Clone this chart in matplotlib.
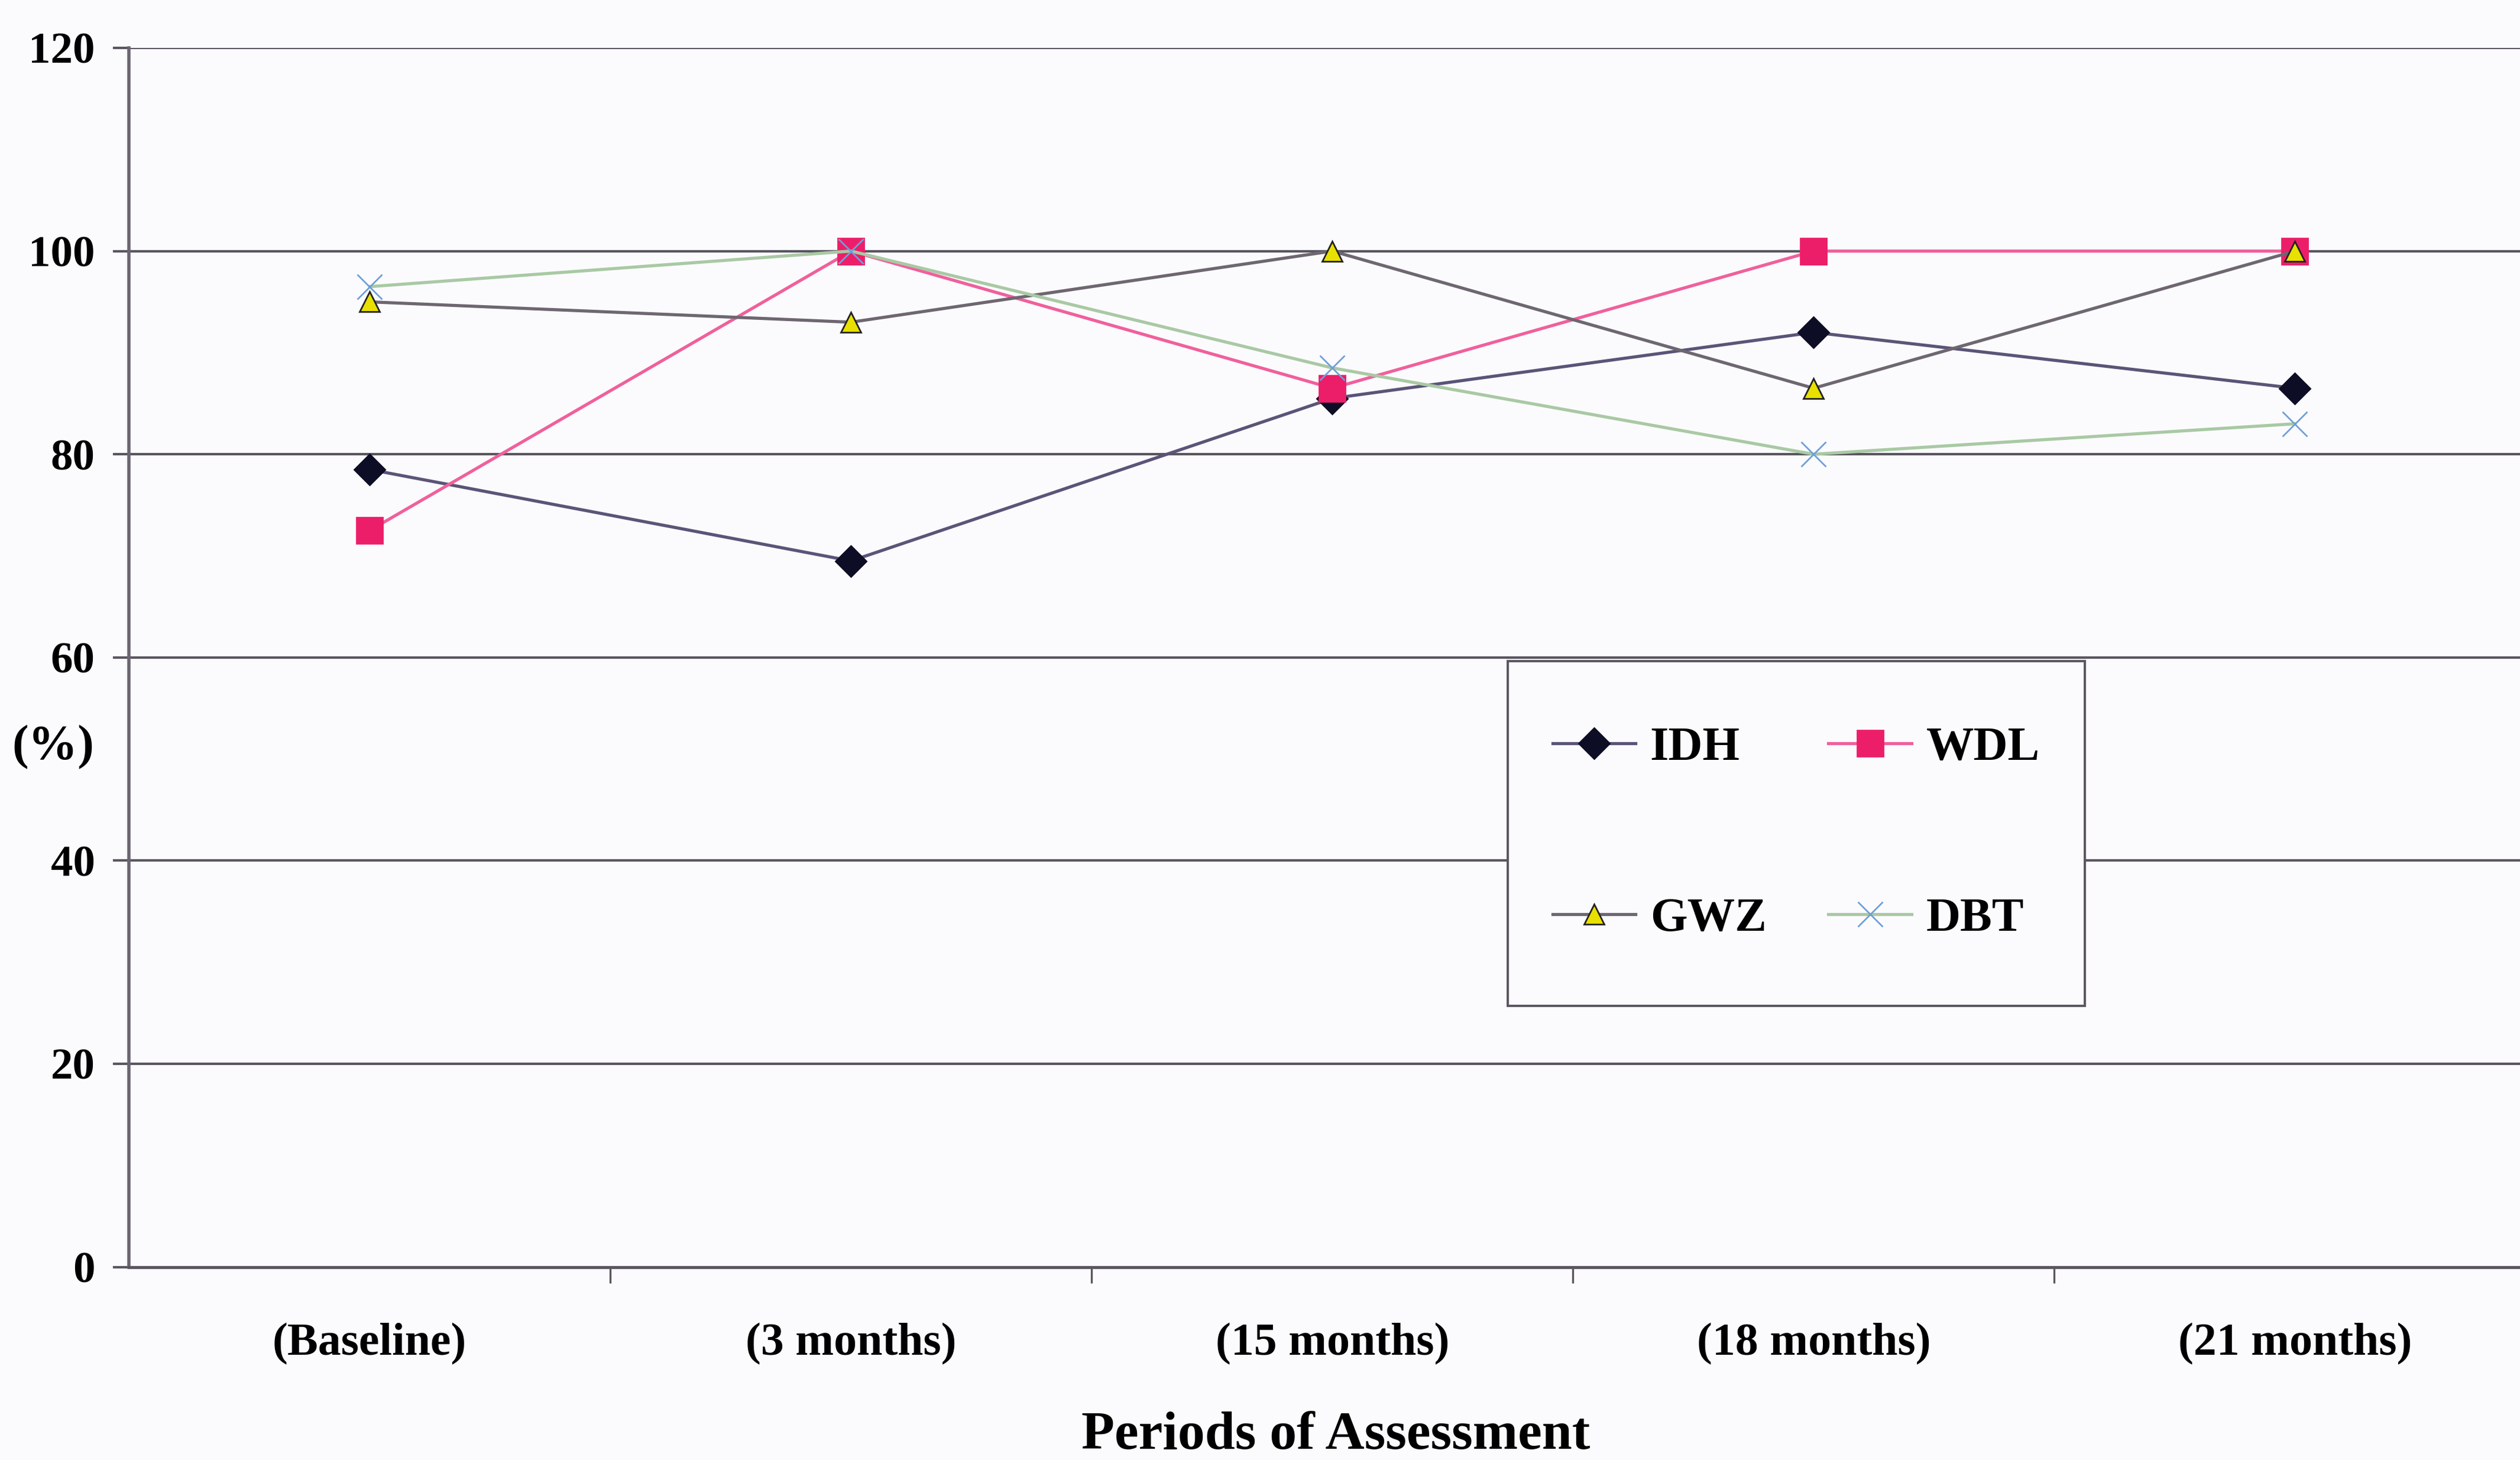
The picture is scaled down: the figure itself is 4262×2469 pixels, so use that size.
import matplotlib
matplotlib.use("Agg")
import matplotlib.pyplot as plt
from matplotlib.patches import Rectangle

# assessment periods and scores (%) per participant
periods = ["(Baseline)", "(3 months)", "(15 months)", "(18 months)", "(21 months)"]
idh = [78.5, 69.5, 85.5, 92.0, 86.5]
wdl = [72.5, 100.0, 86.5, 100.0, 100.0]
gwz = [95.0, 93.0, 100.0, 86.5, 100.0]
dbt = [96.5, 100.0, 88.5, 80.0, 83.0]
yticks = [0, 20, 40, 60, 80, 100, 120]

plt.rcParams['font.family'] = ['Liberation Serif', 'DejaVu Serif']
plt.rcParams['font.weight'] = 'bold'

bg = '#fbfbfd'
grid_c = '#5a5560'

fig = plt.figure(figsize=(21.31, 12.345), dpi=200, facecolor=bg)
ax = fig.add_axes([0.0512, 0.1322, 0.955, 0.835], facecolor=bg)

x = list(range(len(periods)))

l_idh, = ax.plot(x, idh, color='#5b5478', lw=1.9, marker='D', ms=13,
                 mfc='#0d0d26', mec='#0d0d26', label='IDH', zorder=3)
l_wdl, = ax.plot(x, wdl, color='#f0609c', lw=1.9, marker='s', ms=16,
                 mfc='#ec1e6a', mec='#ec1e6a', label='WDL', zorder=3)
l_gwz, = ax.plot(x, gwz, color='#6e6670', lw=1.9, marker='^', ms=12,
                 mfc='#e8e000', mec='#222222', mew=1.0, label='GWZ', zorder=3)
l_dbt, = ax.plot(x, dbt, color='#a9c9a4', lw=1.9, marker='x', ms=15,
                 mec='#6f9fd8', mew=1.0, label='DBT', zorder=3)

ax.set_xlim(-0.5, 4.5)
ax.set_ylim(0, 120)

# horizontal gridlines, ticks poking out to the left
ax.set_yticks(yticks)
ax.set_yticklabels([str(v) for v in yticks], fontsize=27, fontweight='bold')
ax.yaxis.grid(True, color=grid_c, lw=1.5)
ax.tick_params(axis='y', length=9.7, width=1.5, color=grid_c, pad=11)

# category labels centred, tick marks between categories
ax.set_xticks(x)
ax.set_xticklabels(periods, fontsize=28, fontweight='bold')
ax.set_xticks([i + 0.5 for i in x[:-1]], minor=True)
ax.tick_params(axis='x', which='major', length=0, pad=34)
ax.tick_params(axis='x', which='minor', length=9.7, width=1.2, color=grid_c)

for s in ['top', 'right']:
    ax.spines[s].set_visible(False)
ax.spines['left'].set_color('#6a6470')
ax.spines['left'].set_linewidth(2.0)
ax.spines['bottom'].set_color(grid_c)
ax.spines['bottom'].set_linewidth(1.8)
ax.set_axisbelow(True)

fig.text(0.021, 0.488, "(%)", fontsize=30, fontweight='bold',
         ha='center', va='center')
fig.text(0.53, 0.0165, "Periods of Assessment", fontsize=33,
         fontweight='bold', ha='center', va='center')

# column-major fill: IDH / WDL on top row, GWZ / DBT below
handles = [l_idh, l_gwz, l_wdl, l_dbt]
leg = fig.legend(handles, [h.get_label() for h in handles], ncol=2,
                 loc='center', bbox_to_anchor=(0.7127, 0.4290),
                 fontsize=29, labelspacing=2.68, handlelength=1.75,
                 handletextpad=0.3, columnspacing=1.3, borderpad=0,
                 frameon=False)
leg.set_zorder(6)

# legend box: wider padding above/below than at the sides
fig.canvas.draw()
bb = leg.get_window_extent().transformed(fig.transFigure.inverted())
pad_x, pad_y = 76 / 4262, 110 / 2469
box = Rectangle((bb.x0 - pad_x, bb.y0 - pad_y), bb.width + 2 * pad_x,
                bb.height + 2 * pad_y, transform=fig.transFigure,
                facecolor=bg, edgecolor=grid_c, lw=1.4, zorder=5)
fig.add_artist(box)

fig.savefig("out.png", dpi=200, facecolor=bg)
